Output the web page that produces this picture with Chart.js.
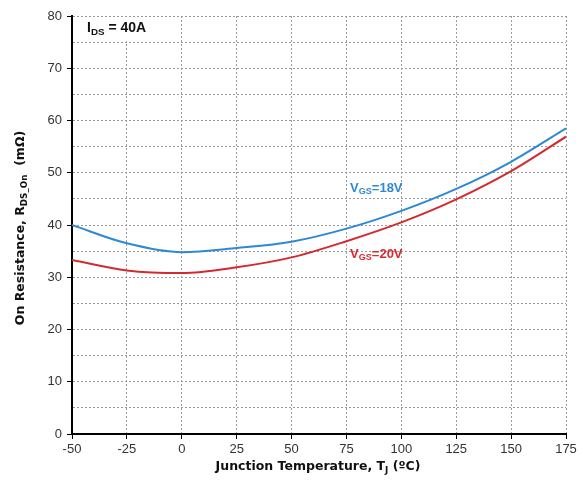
<!DOCTYPE html>
<html>
<head>
<meta charset="utf-8">
<script src="https://cdn.jsdelivr.net/npm/chart.js@4"></script>
<style>
  body { margin: 0; background: #fff; }
  #wrap { width: 583px; height: 480px; }
</style>
</head>
<body>
<div id="wrap"><canvas id="myChart" width="583" height="480"></canvas></div>
<script>
// data
var temps = [-50, -25, 0, 25, 50, 75, 100, 125, 150, 175];
var rds18 = [40.0, 36.5, 34.8, 35.6, 36.8, 39.3, 42.7, 46.9, 52.1, 58.5];
var rds20 = [33.3, 31.3, 30.8, 31.9, 33.8, 36.9, 40.5, 44.9, 50.3, 56.9];
var xTicks = [-50, -25, 0, 25, 50, 75, 100, 125, 150, 175];
var yTicks = [0, 10, 20, 30, 40, 50, 60, 70, 80];

var blue = '#2e88d4';
var red = '#d42a2f';
var font = '"Liberation Sans", Arial, sans-serif';
var titleFont = '"DejaVu Sans", Verdana, sans-serif';

function pts(ys) {
    return temps.map(function (t, i) { return { x: t, y: ys[i] }; });
}

// draw text pieces with subscripts, returns width
function richText(ctx, parts, x, y, size, fam, measureOnly) {
    var w = 0;
    parts.forEach(function (p) {
        var s = p.sub ? size * 0.7 : size;
        ctx.font = 'bold ' + s + 'px ' + fam;
        if (!measureOnly) ctx.fillText(p.t, x + w, y + (p.sub ? size * 0.28 : 0));
        w += ctx.measureText(p.t).width;
    });
    return w;
}

var labelsPlugin = {
    id: 'labels',
    beforeDatasetsDraw: function (chart) {
        var ctx = chart.ctx;
        ctx.save();
        // I_DS box
        ctx.fillStyle = '#fff';
        ctx.fillRect(74, 17, 89, 24);
        ctx.fillStyle = '#111';
        ctx.textBaseline = 'middle';
        richText(ctx, [{ t: 'I' }, { t: 'DS', sub: true }, { t: ' = 40A' }], 87, 28, 14, font);
        ctx.restore();
    },
    afterDatasetsDraw: function (chart) {
        var ctx = chart.ctx;
        ctx.save();
        ctx.textBaseline = 'middle';
        ctx.fillStyle = blue;
        richText(ctx, [{ t: 'V' }, { t: 'GS', sub: true }, { t: '=18V' }], 350, 188, 13, font);
        ctx.fillStyle = red;
        richText(ctx, [{ t: 'V' }, { t: 'GS', sub: true }, { t: '=20V' }], 350, 254, 13, font);

        // axis titles
        ctx.fillStyle = '#111';
        var xParts = [{ t: 'Junction Temperature, T' }, { t: 'J', sub: true }, { t: ' (\u00baC)' }];
        var w = richText(ctx, xParts, 0, 0, 12.5, titleFont, true);
        richText(ctx, xParts, 318 - w / 2, 467, 12.5, titleFont);

        var yParts = [{ t: 'On Resistance, R' }, { t: 'DS_On', sub: true }, { t: '  (m\u03a9)' }];
        ctx.translate(21, 228);
        ctx.rotate(-Math.PI / 2);
        w = richText(ctx, yParts, 0, 0, 12.5, titleFont, true);
        richText(ctx, yParts, -w / 2, 0, 12.5, titleFont);
        ctx.restore();
    }
};

var ctx = document.getElementById('myChart').getContext('2d');
var chart = new Chart(ctx, {
    type: 'line',
    data: {
        datasets: [{
            label: 'VGS=18V',
            data: pts(rds18),
            borderColor: blue,
            borderWidth: 2,
            pointRadius: 0,
            cubicInterpolationMode: 'monotone',
            fill: false
        }, {
            label: 'VGS=20V',
            data: pts(rds20),
            borderColor: red,
            borderWidth: 2,
            pointRadius: 0,
            cubicInterpolationMode: 'monotone',
            fill: false
        }]
    },
    options: {
        responsive: false,
        animation: false,
        layout: { padding: { top: 16, right: 17, left: 0, bottom: 0 } },
        plugins: {
            legend: { display: false },
            tooltip: { enabled: false }
        },
        scales: {
            x: {
                type: 'linear',
                min: -50,
                max: 175,
                afterBuildTicks: function (s) { s.ticks = xTicks.map(function (v) { return { value: v }; }); },
                afterFit: function (s) { s.height = 46; },
                ticks: { color: '#333', font: { family: font, size: 13 }, padding: 3 },
                grid: { color: '#9a9a9a', tickColor: '#000', tickLength: 5, lineWidth: 1 },
                border: { color: '#000', width: 2, dash: [2, 2] }
            },
            y: {
                min: 0,
                max: 80,
                afterBuildTicks: function (s) {
                    var t = [];
                    for (var v = 0; v <= 80; v += 5) t.push({ value: v });
                    s.ticks = t;
                },
                afterFit: function (s) { s.width = 72; },
                ticks: {
                    color: '#333',
                    font: { family: font, size: 13 },
                    padding: 5,
                    callback: function (v) { return yTicks.indexOf(v) >= 0 ? v : ''; }
                },
                grid: {
                    color: '#9a9a9a',
                    lineWidth: 1,
                    tickLength: 5,
                    tickColor: function (c) { return c.tick && c.tick.value % 10 === 0 ? '#000' : 'rgba(0,0,0,0)'; }
                },
                border: { color: '#000', width: 2, dash: [2, 2] }
            }
        }
    },
    plugins: [labelsPlugin]
});
</script>
</body>
</html>
